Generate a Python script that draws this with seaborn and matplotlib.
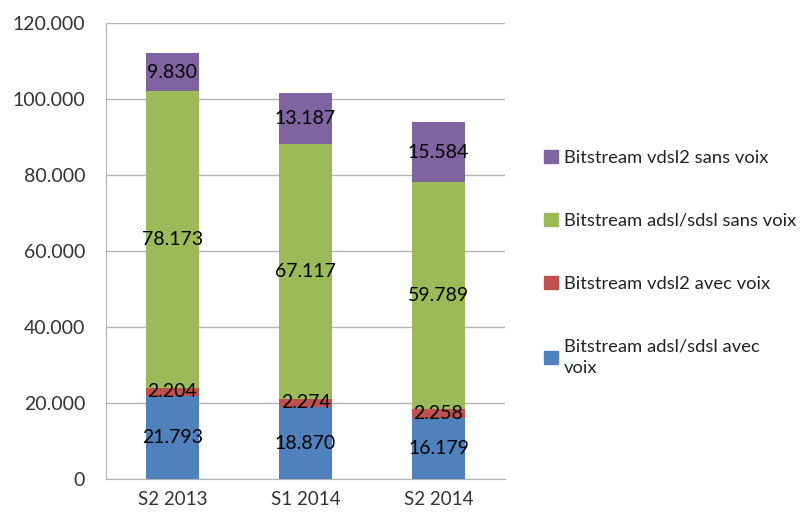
import numpy as np
import pandas as pd
import matplotlib.pyplot as plt
import seaborn as sns
from matplotlib.patches import Patch
from matplotlib.ticker import FuncFormatter

periods = ["S2 2013", "S1 2014", "S2 2014"]
adsl_avec = [21793, 18870, 16179]
vdsl_avec = [2204, 2274, 2258]
adsl_sans = [78173, 67117, 59789]
vdsl_sans = [9830, 13187, 15584]

series = [
    ("Bitstream adsl/sdsl avec\nvoix", adsl_avec, "#4F81BD"),
    ("Bitstream vdsl2 avec voix", vdsl_avec, "#C0504D"),
    ("Bitstream adsl/sdsl sans voix", adsl_sans, "#9BBB59"),
    ("Bitstream vdsl2 sans voix", vdsl_sans, "#8064A2"),
]

sns.set_style("white")
plt.rcParams['font.family'] = ['Lato', 'DejaVu Sans']

fig = plt.figure(figsize=(8.06, 5.13), dpi=100)
ax = fig.add_axes([0.1315, 0.0663, 0.495, 0.889])


def fmt(v):
    return f"{v:,.0f}".replace(",", ".")


bottom = np.zeros(len(periods))
for name, vals, color in series:
    df = pd.DataFrame({"period": periods, "value": vals})
    sns.barplot(data=df, x="period", y="value", color=color, width=0.4,
                bottom=bottom, ax=ax, saturation=1, linewidth=0, zorder=3)
    cont = ax.containers[-1]
    ax.bar_label(cont, labels=[fmt(v) for v in vals], label_type="center",
                 fontsize=14, color="black", zorder=4)
    bottom = bottom + np.array(vals)

ax.set_ylim(0, 120000)
ax.set_xlim(-0.5, 2.5)
ax.set_yticks(np.arange(0, 120001, 20000))
ax.yaxis.set_major_formatter(FuncFormatter(lambda v, p: fmt(v)))
ax.set_xlabel("")
ax.set_ylabel("")
ax.grid(axis="y", color="#B3B3B3", linewidth=1, zorder=0)
ax.set_axisbelow(True)
for s in ["top", "right"]:
    ax.spines[s].set_visible(False)
ax.spines["left"].set_color("#B3B3B3")
ax.spines["bottom"].set_color("#B3B3B3")
ax.tick_params(axis="y", length=7, color="#B3B3B3", labelsize=14,
               labelcolor="#333333", pad=8)
ax.tick_params(axis="x", which="major", length=0, labelsize=13.5,
               labelcolor="#333333", pad=9)
ax.set_xticks([-0.5, 0.5, 1.5, 2.5], minor=True)
ax.tick_params(axis="x", which="minor", length=7, color="#B3B3B3")

handles = [Patch(color=c, label=n) for n, _, c in reversed(series)]
leg = fig.legend(handles=handles, loc="upper left", bbox_to_anchor=(0.655, 0.74),
                 frameon=False, fontsize=13.2, handlelength=0.75, handleheight=0.75,
                 handletextpad=0.3, labelspacing=2.55, labelcolor="#222222")
for t in leg.get_texts():
    t.set_linespacing(1.45)

fig.savefig("out.png", dpi=100)
